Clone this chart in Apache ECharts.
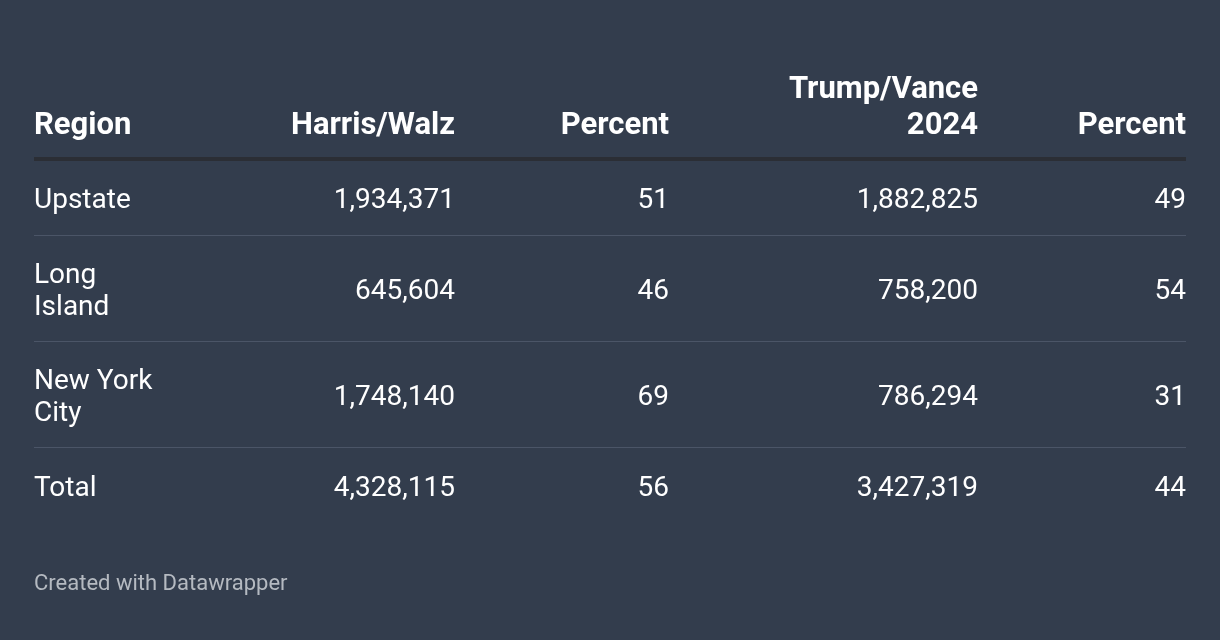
<!DOCTYPE html>
<html>
<head>
<meta charset="utf-8">
<script src="https://cdn.jsdelivr.net/npm/echarts@6/dist/echarts.min.js"></script>
<style>
  html, body { margin: 0; padding: 0; background: #333d4d; }
  #chart { width: 1220px; height: 640px; }
</style>
</head>
<body>
<div id="chart"></div>
<script>
// table data
const headers = ['Region', 'Harris/Walz', 'Percent', 'Trump/Vance\n2024', 'Percent'];
const regions = ['Upstate', 'Long\nIsland', 'New York\nCity', 'Total'];
const harrisVotes = [1934371, 645604, 1748140, 4328115];
const harrisPct = [51, 46, 69, 56];
const trumpVotes = [1882825, 758200, 786294, 3427319];
const trumpPct = [49, 54, 31, 44];
const footer = 'Created with Datawrapper';

const chart = echarts.init(document.getElementById('chart'));

// column anchors (x) and alignment
const left = 34, right = 1186;
const colX = [left, 455, 669, 978, right];
const colAlign = ['left', 'right', 'right', 'right', 'right'];
const fontFamily = 'Roboto, sans-serif';
const fontSize = 28;
const headSize = 31;
const lineH = 32;
const pad = 22;

const fmt = v => v.toLocaleString('en-US');

const graphic = [];

// header, bottom aligned
const headerBottom = 144;
headers.forEach((h, i) => {
  graphic.push({
    type: 'text',
    x: colX[i],
    y: headerBottom,
    style: {
      text: h,
      fill: '#ffffff',
      font: 'bold ' + headSize + 'px ' + fontFamily,
      lineHeight: 36,
      align: colAlign[i],
      verticalAlign: 'bottom'
    }
  });
});

// thick header rule
graphic.push({
  type: 'rect',
  shape: { x: left, y: 157, width: right - left, height: 4 },
  style: { fill: '#2b2e35' }
});

// body rows
let y = 161;
regions.forEach((r, k) => {
  const lines = r.split('\n').length;
  const h = pad * 2 + lines * lineH - (lines > 1 ? 2 : 0);
  const cy = y + h / 2 + 2;
  const cells = [r, fmt(harrisVotes[k]), String(harrisPct[k]), fmt(trumpVotes[k]), String(trumpPct[k])];
  cells.forEach((c, i) => {
    graphic.push({
      type: 'text',
      x: colX[i],
      y: cy,
      style: {
        text: c,
        fill: '#ffffff',
        font: fontSize + 'px ' + fontFamily,
        lineHeight: lineH,
        align: colAlign[i],
        verticalAlign: 'middle'
      }
    });
  });
  y += h;
  if (k < regions.length - 1) {
    graphic.push({
      type: 'rect',
      shape: { x: left, y: y - 2, width: right - left, height: 1 },
      style: { fill: '#4b5567' }
    });
  }
});

// footer
graphic.push({
  type: 'text',
  x: left,
  y: 584,
  style: {
    text: footer,
    fill: '#b5bac1',
    font: '22px ' + fontFamily,
    align: 'left',
    verticalAlign: 'middle'
  }
});

chart.setOption({
  backgroundColor: '#333d4d',
  animation: false,
  graphic: graphic
});
</script>
</body>
</html>
